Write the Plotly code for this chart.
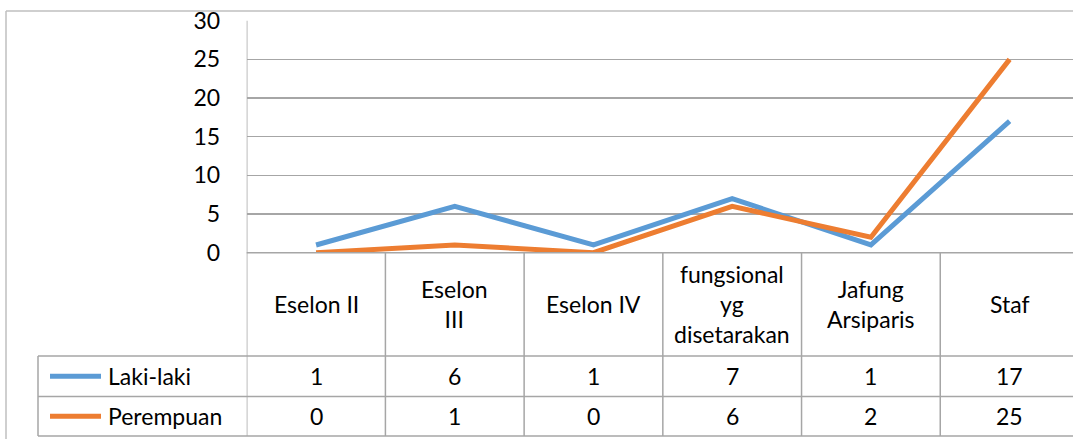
import plotly.graph_objects as go

categories = ["Eselon II", "Eselon<br>III", "Eselon IV", "fungsional<br>yg<br>disetarakan", "Jafung<br>Arsiparis", "Staf"]
series_names = ["Laki-laki", "Perempuan"]
laki = [1, 6, 1, 7, 1, 17]
perempuan = [0, 1, 0, 6, 2, 25]
y_ticks = [0, 5, 10, 15, 20, 25, 30]

W, H = 1073, 439
colors = ["#5B9BD5", "#ED7D31"]
grid = "#A6A6A6"
FONT = "Lato"
FS = 23


def py(px):
    return 1 - px / H


def pxx(px):
    return px / W


x_idx = list(range(len(categories)))

fig = go.Figure()
for name, vals, c in zip(series_names, [laki, perempuan], colors):
    fig.add_trace(go.Scatter(x=x_idx, y=vals, mode="lines", name=name,
                             line=dict(color=c, width=5), showlegend=False,
                             hoverinfo="skip"))

plot_top, plot_bot = 20.7, 252.7
row_cat_bot, row1_bot, row2_bot = 356, 396.5, 436
table_left = 38
plot_left = 246.7

fig.update_layout(
    width=W, height=H,
    margin=dict(l=0, r=0, t=0, b=0, autoexpand=False),
    paper_bgcolor="white", plot_bgcolor="white",
    font=dict(family=FONT, size=FS, color="black"),
    xaxis=dict(domain=[pxx(plot_left), 1], range=[-0.5, 5.457], automargin=False,
               showticklabels=False, showgrid=False, zeroline=False,
               showline=False, fixedrange=True),
    yaxis=dict(domain=[py(plot_bot), py(plot_top)], range=[0, 30], automargin=False,
               tickvals=y_ticks, showgrid=True, gridcolor=grid, gridwidth=1.3,
               zeroline=False, showline=False, ticks="outside", ticklen=21,
               tickcolor="rgba(0,0,0,0)", tickfont=dict(size=FS, family=FONT),
               fixedrange=True),
)

shapes = []
lw = 1.5
# outer chart border
shapes.append(dict(type="line", xref="paper", yref="paper", x0=pxx(6), x1=1, y0=py(11), y1=py(11),
                   line=dict(color="#BFBFBF", width=1.5)))
shapes.append(dict(type="line", xref="paper", yref="paper", x0=pxx(6), x1=pxx(6), y0=py(11), y1=0,
                   line=dict(color="#BFBFBF", width=1.5)))
# vertical column lines from plot top (left) / table top
for k in range(len(categories) + 1):
    y_top = plot_top if k == 0 else plot_bot
    shapes.append(dict(type="line", xref="x", yref="paper", x0=k - 0.5, x1=k - 0.5,
                       y0=py(y_top), y1=py(row2_bot), line=dict(color=grid, width=lw)))
# horizontal table lines
shapes.append(dict(type="line", xref="paper", yref="paper", x0=pxx(plot_left), x1=1,
                   y0=py(plot_bot), y1=py(plot_bot), line=dict(color=grid, width=lw)))
for yy in [row_cat_bot, row1_bot, row2_bot]:
    shapes.append(dict(type="line", xref="paper", yref="paper", x0=pxx(table_left), x1=1,
                       y0=py(yy), y1=py(yy), line=dict(color=grid, width=lw)))
shapes.append(dict(type="line", xref="paper", yref="paper", x0=pxx(table_left), x1=pxx(table_left),
                   y0=py(row_cat_bot), y1=py(row2_bot), line=dict(color=grid, width=lw)))

annotations = []
# category labels
for i, cat in enumerate(categories):
    annotations.append(dict(x=i, xref="x", y=py((plot_bot + row_cat_bot) / 2), yref="paper",
                            text=cat, showarrow=False, xanchor="center", yanchor="middle",
                            font=dict(size=FS, family=FONT)))
# legend rows and values
row_centers = [(row_cat_bot + row1_bot) / 2, (row1_bot + row2_bot) / 2]
for name, vals, c, yc in zip(series_names, [laki, perempuan], colors, row_centers):
    shapes.append(dict(type="line", xref="paper", yref="paper", x0=pxx(50), x1=pxx(101),
                       y0=py(yc), y1=py(yc), line=dict(color=c, width=5)))
    annotations.append(dict(x=pxx(106), xref="paper", y=py(yc), yref="paper", text=name,
                            showarrow=False, xanchor="left", yanchor="middle",
                            font=dict(size=FS, family=FONT)))
    for i, v in enumerate(vals):
        annotations.append(dict(x=i, xref="x", y=py(yc), yref="paper", text=str(v),
                                showarrow=False, xanchor="center", yanchor="middle",
                                font=dict(size=FS, family=FONT)))

fig.update_layout(shapes=shapes, annotations=annotations)
fig.write_html("out.html", config={"displayModeBar": False, "staticPlot": True},
               post_script="document.body.style.margin='0';document.body.style.padding='0';"
                           "document.body.style.overflow='hidden';"
                           "document.documentElement.style.overflow='hidden';")
